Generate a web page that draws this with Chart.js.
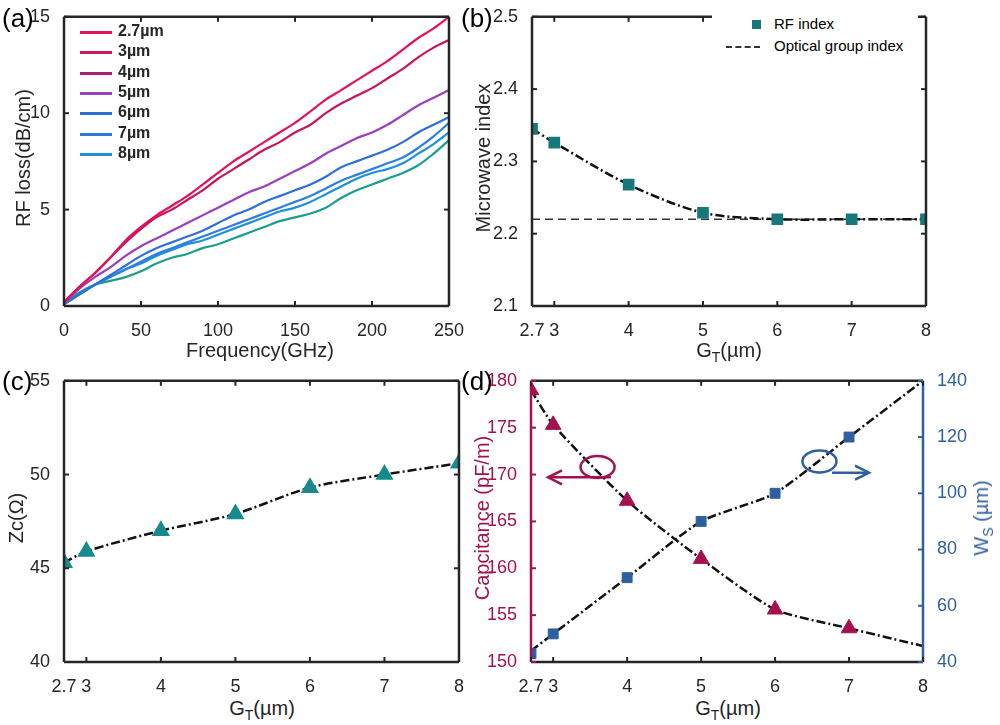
<!DOCTYPE html>
<html>
<head>
<meta charset="utf-8">
<script src="https://cdn.jsdelivr.net/npm/chart.js@4"></script>
<style>
body{margin:0;background:#fff;width:1000px;height:725px;position:relative;overflow:hidden;font-family:"Liberation Sans",Arial,sans-serif;}
.t{position:absolute;font-size:20px;color:#262626;white-space:nowrap;}
.v{transform:translate(-50%,-50%) rotate(-90deg);}
.h{transform:translateX(-50%);}
.p{position:absolute;font-size:26px;color:#000;}
sub{font-size:14px;vertical-align:-5px;}
#leg{position:absolute;left:712px;top:12px;width:206px;height:50px;background:#fff;font-size:15px;}
#leg div,#lega div{position:absolute;left:0;}
#lega{position:absolute;left:70px;top:22px;width:120px;height:150px;font-size:16px;font-weight:bold;color:#262626;}
</style>
</head>
<body>
<div style="position:absolute;left:0;top:0;width:470px;height:340px"><canvas id="ca"></canvas></div>
<div style="position:absolute;left:470px;top:0;width:530px;height:340px"><canvas id="cb"></canvas></div>
<div style="position:absolute;left:0;top:364px;width:470px;height:331px"><canvas id="cc"></canvas></div>
<div style="position:absolute;left:470px;top:364px;width:530px;height:331px"><canvas id="cd"></canvas></div>

<div class="p" style="left:2px;top:3px">(a)</div>
<div class="p" style="left:461px;top:3px">(b)</div>
<div class="p" style="left:2px;top:366px">(c)</div>
<div class="p" style="left:461px;top:366px">(d)</div>

<div class="t v" style="left:23px;top:158px">RF loss(dB/cm)</div>
<div class="t h" style="left:260px;top:339px">Frequency(GHz)</div>
<div class="t v" style="left:483px;top:158px">Microwave index</div>
<div class="t h" style="left:729px;top:339px">G<sub>T</sub>(µm)</div>
<div class="t v" style="left:16px;top:518px">Zc(Ω)</div>
<div class="t h" style="left:262px;top:697px">G<sub>T</sub>(µm)</div>
<div class="t v" style="left:482px;top:518px;color:#a3124f">Capcitance (pF/m)</div>
<div class="t v" style="left:983px;top:518px;color:#2f5f9f">W<sub>S</sub> (µm)</div>
<div class="t h" style="left:728px;top:697px">G<sub>T</sub>(µm)</div>

<div id="lega"></div>

<div id="leg">
  <div style="left:40px;top:8px;width:9px;height:9px;background:#16787a"></div>
  <div style="left:62px;top:3px">RF index</div>
  <div style="left:14px;top:34px;width:34px;border-top:2px dashed #333"></div>
  <div style="left:62px;top:25px">Optical group index</div>
</div>

<script>
// ---- data ----
const freq = [0,10,20,30,40,50,60,70,80,90,100,110,120,130,140,150,160,170,180,190,200,210,220,230,240,250];
const loss27 = [0.2,1.0,1.7,2.5,3.4,4.1,4.7,5.2,5.7,6.3,6.9,7.5,8.0,8.5,9.0,9.5,10.1,10.7,11.2,11.7,12.2,12.7,13.3,13.9,14.4,15.0];
const loss3 = [0.2,1.0,1.7,2.5,3.3,4.0,4.6,5.0,5.5,6.0,6.6,7.1,7.6,8.1,8.5,9.0,9.4,10.0,10.5,10.9,11.3,11.8,12.3,12.9,13.4,13.8];
const loss4 = [0.15,0.9,1.5,2.0,2.6,3.1,3.5,3.9,4.3,4.7,5.1,5.5,5.9,6.2,6.6,7.0,7.4,7.9,8.3,8.7,9.0,9.4,9.9,10.4,10.8,11.2];
const loss5 = [0.1,0.6,1.1,1.6,2.1,2.6,3.0,3.3,3.6,3.9,4.3,4.7,5.0,5.4,5.7,6.0,6.3,6.7,7.2,7.5,7.8,8.1,8.5,9.0,9.4,9.8];
const loss6 = [0.1,0.6,1.1,1.5,1.9,2.3,2.7,3.0,3.3,3.6,3.9,4.2,4.5,4.8,5.1,5.4,5.7,6.1,6.5,6.8,7.1,7.4,7.7,8.2,8.8,9.5];
const loss7 = [0.1,0.6,1.1,1.5,1.9,2.2,2.6,2.9,3.2,3.4,3.7,4.0,4.3,4.6,4.9,5.1,5.4,5.8,6.2,6.6,6.9,7.1,7.4,7.9,8.4,9.0];
const loss8 = [0.1,0.7,1.1,1.3,1.5,1.8,2.2,2.5,2.7,3.0,3.2,3.5,3.8,4.1,4.4,4.6,4.8,5.1,5.6,6.0,6.3,6.6,6.9,7.3,7.9,8.6];
const lossNames = ["2.7µm","3µm","4µm","5µm","6µm","7µm","8µm"];
const lossColors = ["#e3125a","#c7145e","#9b3fbf","#2f6fd6","#2b7fe0","#1f8fe0","#1a9e8f"];
const legendColors = ["#e3125a","#c81a66","#b01a78","#9a3fc0","#2a6fd8","#2a79e0","#1a8fe0"];

const gt = [2.7,3,4,5,6,7,8];
const gtTicks = [2.7,3,4,5,6,7,8];
const rfIndex = [2.345,2.326,2.268,2.229,2.22,2.22,2.22];
const opticalIndex = 2.22;
const zc = [45.3,45.9,47.0,47.9,49.3,50.0,50.6];
const capLine = [179,175.3,167.2,161,155.6,153.6,151.7];
const capMarks = [179,175.3,167.2,161,155.6,153.6,null];
const wsLine = [44,50,70,90,100,120,140];
const wsMarks = [43,50,70,90,100,120,null];

const FONT = {family:"Liberation Sans", size:18};
const RED = "#a3124f", BLUE = "#2f5f9f";

function xy(xs, ys){ return xs.map((x,i)=>({x:x,y:ys[i]})); }

// legend of (a)
const lega = document.getElementById("lega");
lossNames.forEach((n,i)=>{
  lega.insertAdjacentHTML("beforeend",
    '<div style="left:10px;top:'+(9+i*20.3)+'px;width:32px;height:3px;background:'+legendColors[i]+'"></div>'+
    '<div style="left:48px;top:'+(i*20.3)+'px">'+n+'</div>');
});

// matlab-like box with inward ticks
const boxPlugin = {
  id:"box",
  afterDraw(c){
    const a = c.chartArea, ctx = c.ctx, o = c.options.plugins.box || {};
    ctx.save();
    ctx.lineWidth = 2.5;
    const side = (col,x1,y1,x2,y2)=>{ctx.strokeStyle=col;ctx.beginPath();ctx.moveTo(x1,y1);ctx.lineTo(x2,y2);ctx.stroke();};
    side("#262626",a.left,a.top,a.right,a.top);
    side("#262626",a.left,a.bottom,a.right,a.bottom);
    side(o.left||"#262626",a.left,a.top,a.left,a.bottom);
    side(o.right||"#262626",a.right,a.top,a.right,a.bottom);
    const L = 5;
    ctx.lineWidth = 2;
    c.scales.x.ticks.forEach(t=>{
      const p = c.scales.x.getPixelForValue(t.value);
      side("#262626",p,a.bottom,p,a.bottom-L);
      side("#262626",p,a.top,p,a.top+L);
    });
    Object.values(c.scales).filter(s=>s.axis==="y").forEach(s=>{
      s.ticks.forEach(t=>{
        const p = s.getPixelForValue(t.value);
        if(!o.dual || s.position==="left") side(o.left||"#262626",a.left,p,a.left+L,p);
        if(!o.dual || s.position==="right") side(o.right||"#262626",a.right,p,a.right-L,p);
      });
    });
    ctx.restore();
  }
};

function xAxis(min,max,h,ticksArr,step){
  const ax = {type:"linear",min:min,max:max,grid:{display:false},border:{display:false},
    ticks:{font:FONT,color:"#262626",maxRotation:0,autoSkip:false,padding:6},
    afterFit(s){s.height=h;}};
  if(ticksArr){
    ax.afterBuildTicks = s=>{s.ticks = ticksArr.map(v=>({value:v}));};
    ax.ticks.callback = v=>String(v);
  } else ax.ticks.stepSize = step;
  return ax;
}
function yAxis(min,max,step,w,pos,col,cb){
  return {type:"linear",position:pos||"left",min:min,max:max,grid:{display:false},border:{display:false},
    ticks:{font:FONT,color:col||"#262626",stepSize:step,padding:6,callback:cb||(v=>String(v))},
    afterFit(s){s.width=w;}};
}
const base = {responsive:true,maintainAspectRatio:false,animation:false,
  plugins:{legend:{display:false},tooltip:{enabled:false}}};
const dashDot = [9,3,2,3];

// (a)
new Chart(document.getElementById("ca"),{
  type:"line",
  data:{datasets:[loss27,loss3,loss4,loss5,loss6,loss7,loss8].map((d,i)=>({
    label:lossNames[i],data:xy(freq,d),borderColor:lossColors[i],borderWidth:2.2,
    pointRadius:0,tension:0.35,fill:false}))},
  options:Object.assign({},base,{
    layout:{padding:{top:8,right:13,left:0,bottom:0}},
    scales:{x:xAxis(0,250,34,null,50),y:yAxis(0,15,5,64)}
  }),
  plugins:[boxPlugin]
});

// (b)
new Chart(document.getElementById("cb"),{
  type:"line",
  data:{datasets:[
    {data:xy(gt,rfIndex),borderColor:"#111",borderWidth:2.5,borderDash:dashDot,pointStyle:"rect",
     pointRadius:6.5,pointBackgroundColor:"#16787a",pointBorderColor:"#16787a",tension:0.3},
    {data:[{x:2.7,y:opticalIndex},{x:8,y:opticalIndex}],borderColor:"#333",borderWidth:1.3,borderDash:[8,5],pointRadius:0}
  ]},
  options:Object.assign({},base,{
    layout:{padding:{top:8,right:74,left:0,bottom:0}},
    scales:{x:xAxis(2.7,8,34,gtTicks),y:yAxis(2.1,2.5,0.1,62,"left",null,v=>v.toFixed(1))}
  }),
  plugins:[boxPlugin]
});

// (c)
new Chart(document.getElementById("cc"),{
  type:"line",
  data:{datasets:[
    {data:xy(gt,zc),borderColor:"#111",borderWidth:2.5,borderDash:dashDot,pointStyle:"triangle",
     pointRadius:8,pointBackgroundColor:"#168a8c",pointBorderColor:"#168a8c",tension:0.3}
  ]},
  options:Object.assign({},base,{
    layout:{padding:{top:8,right:11,left:0,bottom:0}},
    scales:{x:xAxis(2.7,8,33,gtTicks),y:yAxis(40,55,5,64)}
  }),
  plugins:[boxPlugin]
});

// (d)
const loops = {
  id:"loops",
  afterDraw(c){
    const ctx=c.ctx, x=c.scales.x, y=c.scales.y;
    ctx.save(); ctx.lineWidth=2.5;
    const loop=(col,cx,cy,ax1,ax2,ay)=>{
      ctx.strokeStyle=col;
      ctx.beginPath(); ctx.ellipse(x.getPixelForValue(cx),y.getPixelForValue(cy),17,11,0,0,Math.PI*2); ctx.stroke();
      const p1=x.getPixelForValue(ax1), p2=x.getPixelForValue(ax2), py=y.getPixelForValue(ay), d=Math.sign(p2-p1);
      ctx.beginPath(); ctx.moveTo(p1,py); ctx.lineTo(p2,py); ctx.stroke();
      ctx.beginPath(); ctx.moveTo(p2-d*14,py-7); ctx.lineTo(p2,py); ctx.lineTo(p2-d*14,py+7); ctx.stroke();
    };
    loop(RED,3.6,170.8,3.78,2.93,169.7);
    loop(BLUE,6.6,171.4,6.77,7.27,170.2);
    ctx.restore();
  }
};
new Chart(document.getElementById("cd"),{
  type:"line",
  data:{datasets:[
    {data:xy(gt,capMarks),yAxisID:"y",showLine:false,pointStyle:"triangle",pointRadius:9,
     pointBackgroundColor:RED,pointBorderColor:RED},
    {data:xy(gt,wsMarks),yAxisID:"y2",showLine:false,pointStyle:"rect",pointRadius:7,
     pointBackgroundColor:BLUE,pointBorderColor:BLUE},
    {data:xy(gt,capLine),yAxisID:"y",borderColor:"#111",borderWidth:2.5,borderDash:dashDot,pointRadius:0,tension:0.2},
    {data:xy(gt,wsLine),yAxisID:"y2",borderColor:"#111",borderWidth:2.5,borderDash:dashDot,pointRadius:0,tension:0.2}
  ]},
  options:Object.assign({},base,{
    layout:{padding:{top:9,right:0,left:0,bottom:0}},
    scales:{x:xAxis(2.7,8,33,gtTicks),
      y:yAxis(150,180,5,61,"left",RED),
      y2:yAxis(40,140,20,77,"right",BLUE)},
    plugins:{legend:{display:false},tooltip:{enabled:false},box:{left:RED,right:BLUE,dual:true}}
  }),
  plugins:[boxPlugin,loops]
});
</script>
</body>
</html>
